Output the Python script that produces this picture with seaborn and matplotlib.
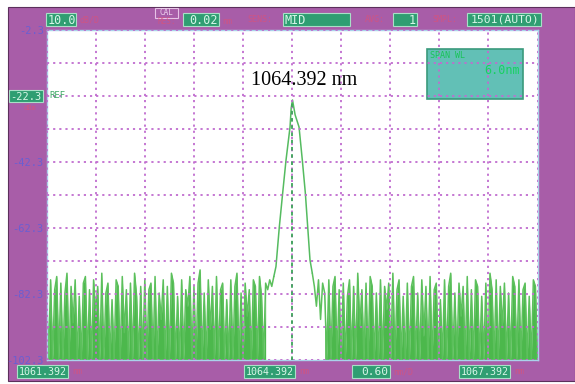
import numpy as np
import pandas as pd
import matplotlib.pyplot as plt
from matplotlib.patches import Rectangle
import seaborn as sns

# ==============================
# OSA screen values
# ==============================
x_start, x_center, x_stop = 1061.392, 1064.392, 1067.392
y_top, y_bottom = -2.3, -102.3

y_ticks = [-2.3, -12.3, -22.3, -32.3, -42.3, -52.3, -62.3, -72.3, -82.3, -92.3, -102.3]
y_labels = ["-2.3", "", "", "", "-42.3", "", "-62.3", "", "-82.3", "", "-102.3"]
x_ticks = [1061.392, 1061.992, 1062.592, 1063.192, 1063.792, 1064.392,
           1064.992, 1065.592, 1066.192, 1066.792, 1067.392]

# noise floor left of the line (1061.392 .. 1064.17 nm), dBm
noise_left = [
    -80, -102, -78, -102, -81, -77, -102, -79, -102, -82,
    -76, -102, -80, -91, -78, -102, -83, -102, -79, -77,
    -102, -81, -102, -78, -88, -80, -102, -76, -102, -82,
    -79, -102, -84, -102, -78, -80, -102, -77, -94, -81,
    -102, -79, -102, -76, -83, -102, -80, -102, -78, -102,
    -81, -79, -102, -77, -102, -82, -90, -78, -102, -80,
    -102, -76, -79, -102, -83, -102, -78, -102, -81, -86,
    -77, -102, -80, -102, -79, -75, -102, -82, -102, -78,
    -93, -80, -102, -77, -102, -81, -79, -102, -84, -102,
    -78, -102, -80, -76, -102, -82, -102, -79, -89, -81,
    -102, -78, -80, -102, -77, -83, -102, -79, -81, -78,
    -80, -77,
]

# the laser line itself
peak_nm = [1064.196, 1064.237, 1064.278, 1064.319, 1064.368, 1064.382,
           1064.398, 1064.43, 1064.478, 1064.518, 1064.555, 1064.584, 1064.612]
peak_db = [-74, -62, -51.7, -41.7, -31.7, -26, -23.5, -28, -31.7,
           -41.7, -51.7, -62, -72]

# noise floor right of the line (1064.64 .. 1067.392 nm), dBm
noise_right = [
    -76, -80, -86, -78, -90, -79, -82, -102, -78, -102,
    -80, -77, -102, -81, -102, -79, -102, -83, -78, -102,
    -80, -102, -76, -92, -81, -102, -79, -102, -77, -80,
    -102, -82, -102, -78, -102, -80, -87, -79, -102, -76,
    -102, -81, -78, -102, -83, -102, -79, -102, -80, -77,
    -102, -82, -102, -78, -95, -80, -102, -77, -102, -81,
    -79, -102, -84, -102, -78, -102, -80, -76, -102, -82,
    -102, -79, -89, -80, -102, -77, -102, -81, -102, -78,
    -80, -102, -83, -102, -79, -102, -76, -81, -102, -78,
    -102, -80, -92, -79, -102, -82, -102, -77, -80, -102,
    -78, -102, -81, -79, -102, -83, -102, -78, -80, -102,
]

# instrument sweeps on an even wavelength grid
left_nm = np.linspace(x_start, 1064.17, len(noise_left))
right_nm = np.linspace(1064.64, x_stop, len(noise_right))

left_df = pd.DataFrame({"nm": left_nm, "dbm": noise_left})
right_df = pd.DataFrame({"nm": right_nm, "dbm": noise_right})
# join the line to the neighbouring noise samples
peak_df = pd.DataFrame({
    "nm": np.concatenate([[left_nm[-1]], peak_nm, [right_nm[0]]]),
    "dbm": np.concatenate([[noise_left[-1]], peak_db, [noise_right[0]]]),
})

# the dense dropouts only start away from the line
last_drop_left = len(noise_left) - 1 - noise_left[::-1].index(-102)
first_drop_right = noise_right.index(-102)
fill_parts = [left_df.iloc[:last_drop_left + 2], right_df.iloc[first_drop_right - 1:]]

# ==============================
# figure
# ==============================
sns.set_style("white")
plt.rcParams["font.family"] = ["DejaVu Sans Mono", "DejaVu Sans"]

W, H = 575, 384
fig = plt.figure(figsize=(W / 100, H / 100), dpi=100)
fig.patch.set_facecolor("white")


def fx(px):
    return px / W


def fy(py):
    return 1 - py / H


purple = "#a85da8"
fig.add_artist(Rectangle((fx(8), fy(381)), fx(W - 8), (381 - 7) / H,
                         transform=fig.transFigure, fc=purple, ec="#5c305c",
                         lw=0.8, zorder=-1))

ax = fig.add_axes([fx(46.5), 1 - 360 / H, 491 / W, 330 / H])
ax.set_facecolor("white")

green = "#4cb84c"
# the sweep is so dense that the screen looks filled under the trace
for d in fill_parts:
    ax.fill_between(d["nm"], d["dbm"], y_bottom, color=green, lw=0, zorder=1.9)
for d in (left_df, right_df):
    sns.lineplot(data=d, x="nm", y="dbm", sort=False, estimator=None,
                 color="#5cc05c", lw=1.1, ax=ax, zorder=2)
sns.lineplot(data=peak_df, x="nm", y="dbm", sort=False, estimator=None,
             color="#55bb60", lw=1.1, ax=ax, zorder=2)

# span info box inside the screen
ax.add_patch(Rectangle((1066.042, -23.2), 1.173, 15.1, fc="#62c0b6",
                       ec="#3a9a7c", lw=1.2, zorder=2.2))

# marker line at the centre wavelength
ax.vlines(x_center, y_bottom, -23.5, colors="#3da55a", lw=1.3,
          linestyles=(0, (2, 2)), zorder=3)

ax.set_xlim(x_start, x_stop)
ax.set_ylim(y_bottom, y_top)
ax.set_xticks(x_ticks)
ax.set_xticklabels([""] * len(x_ticks))
ax.set_yticks(y_ticks)
ax.set_yticklabels(y_labels, color="#6a5fd2", fontsize=7.5)
ax.tick_params(length=0, pad=2)
ax.set_xlabel("")
ax.set_ylabel("")
ax.set_axisbelow(False)
ax.grid(True, color="#c06ccf", lw=1.3, linestyle=(0, (1.2, 2.2)))
for s in ax.spines.values():
    s.set_color("#a9d2ea")
    s.set_linewidth(1.0)

ax.text(1066.08, -9.9, "SPAN WL", color="#18c458", fontsize=6,
        va="center", ha="left", zorder=4)
ax.text(1067.18, -14.6, "6.0nm", color="#18d062", fontsize=8.5,
        va="center", ha="right", zorder=4)
ax.text(1061.43, -22.3, "REF", color="#3fa866", fontsize=6.5,
        va="center", ha="left", zorder=4)

ax.text(1064.535, -17.5, "1064.392 nm", family=["Liberation Serif", "DejaVu Serif"],
        fontsize=14.5, color="black", ha="center", va="center", zorder=5)


# green readout boxes on the purple frame
def box(x0, y0, x1, y1, label, ha="left", size=8.5):
    fig.add_artist(Rectangle((fx(x0), fy(y1)), fx(x1 - x0), (y1 - y0) / H,
                             transform=fig.transFigure, fc="#2f9e72",
                             ec="#a9dfc7", lw=0.8, zorder=3))
    tx = x0 + 1.5 if ha == "left" else x1 - 1.5
    fig.text(fx(tx), fy((y0 + y1) / 2 + 0.5), label, ha=ha, va="center",
             color="#d8f6e8", fontsize=size, zorder=4)


def red(x, y, label, size=6):
    fig.text(fx(x), fy(y), label, ha="left", va="center",
             color="#d9527a", fontsize=size, alpha=0.8, zorder=4)


# top row
box(46, 13, 76, 26, "10.0")
red(79, 20, "dB/D")
fig.add_artist(Rectangle((fx(155), fy(17.5)), fx(23), 10 / H,
                         transform=fig.transFigure, fc="none",
                         ec="#e6c2e6", lw=0.8, zorder=3))
fig.text(fx(166.5), fy(12.5), "CAL", ha="center", va="center",
         color="#ecd0ec", fontsize=5.5, zorder=4)
red(157, 21.5, "RES:", size=5.5)
box(183, 13, 219, 26, "0.02", ha="right")
red(222, 21, "nm")
red(247, 20, "SENS:")
box(283, 13, 350, 26, "MID")
red(365, 20, "AVG:")
box(393, 13, 417, 26, "1", ha="right")
red(432, 20, "SMPL:")
box(467, 13, 541, 26, "1501(AUTO)", ha="right", size=8.2)

# left: reference level
box(9, 90, 43, 102, "-22.3", ha="right", size=7.5)
red(24, 108, "dBm", size=5)

# bottom row
box(17, 365, 68, 378, "1061.392", size=7.2)
red(72, 372, "nm")
box(244, 365, 295, 378, "1064.392", size=7.2)
red(299, 372, "nm")
box(352, 365, 390, 378, "0.60", ha="right", size=8)
red(393, 372, "nm/D")
box(459, 365, 510, 378, "1067.392", size=7.2)
red(514, 372, "nm")

plt.savefig("out.png", dpi=100)
